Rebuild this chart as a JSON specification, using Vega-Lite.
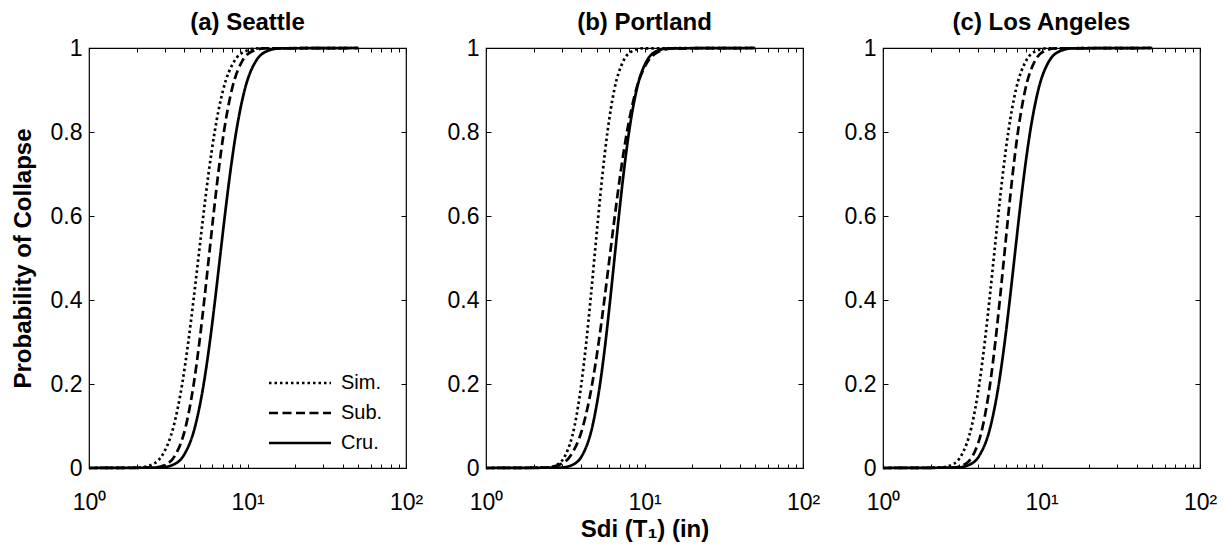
{
  "$schema": "https://vega.github.io/schema/vega-lite/v6.json",
  "padding": {"left": 10, "top": 10, "right": 5, "bottom": 2},
  "background": "white",
  "datasets": {
    "curves": [
      {"city":"Seattle","curve":"Sim.","sdi":1,"p":0},{"city":"Seattle","curve":"Sim.","sdi":2.063,"p":0.001},{"city":"Seattle","curve":"Sim.","sdi":2.554,"p":0.01},{"city":"Seattle","curve":"Sim.","sdi":2.894,"p":0.03},{"city":"Seattle","curve":"Sim.","sdi":3.422,"p":0.1},{"city":"Seattle","curve":"Sim.","sdi":3.871,"p":0.2},{"city":"Seattle","curve":"Sim.","sdi":4.231,"p":0.3},{"city":"Seattle","curve":"Sim.","sdi":4.565,"p":0.4},{"city":"Seattle","curve":"Sim.","sdi":4.9,"p":0.5},{"city":"Seattle","curve":"Sim.","sdi":5.26,"p":0.6},{"city":"Seattle","curve":"Sim.","sdi":5.674,"p":0.7},{"city":"Seattle","curve":"Sim.","sdi":6.203,"p":0.8},{"city":"Seattle","curve":"Sim.","sdi":7.016,"p":0.9},{"city":"Seattle","curve":"Sim.","sdi":8.297,"p":0.97},{"city":"Seattle","curve":"Sim.","sdi":9.399,"p":0.99},{"city":"Seattle","curve":"Sim.","sdi":11.64,"p":0.999},{"city":"Seattle","curve":"Sim.","sdi":50,"p":1},
      {"city":"Seattle","curve":"Sub.","sdi":1,"p":0},{"city":"Seattle","curve":"Sub.","sdi":2.552,"p":0.001},{"city":"Seattle","curve":"Sub.","sdi":3.113,"p":0.01},{"city":"Seattle","curve":"Sub.","sdi":3.495,"p":0.03},{"city":"Seattle","curve":"Sub.","sdi":4.084,"p":0.1},{"city":"Seattle","curve":"Sub.","sdi":4.579,"p":0.2},{"city":"Seattle","curve":"Sub.","sdi":4.974,"p":0.3},{"city":"Seattle","curve":"Sub.","sdi":5.337,"p":0.4},{"city":"Seattle","curve":"Sub.","sdi":5.7,"p":0.5},{"city":"Seattle","curve":"Sub.","sdi":6.088,"p":0.6},{"city":"Seattle","curve":"Sub.","sdi":6.532,"p":0.7},{"city":"Seattle","curve":"Sub.","sdi":7.095,"p":0.8},{"city":"Seattle","curve":"Sub.","sdi":7.955,"p":0.9},{"city":"Seattle","curve":"Sub.","sdi":9.296,"p":0.97},{"city":"Seattle","curve":"Sub.","sdi":10.436,"p":0.99},{"city":"Seattle","curve":"Sub.","sdi":12.729,"p":0.999},{"city":"Seattle","curve":"Sub.","sdi":50,"p":1},
      {"city":"Seattle","curve":"Cru.","sdi":1,"p":0},{"city":"Seattle","curve":"Cru.","sdi":2.821,"p":0.001},{"city":"Seattle","curve":"Cru.","sdi":3.493,"p":0.01},{"city":"Seattle","curve":"Cru.","sdi":3.957,"p":0.03},{"city":"Seattle","curve":"Cru.","sdi":4.679,"p":0.1},{"city":"Seattle","curve":"Cru.","sdi":5.292,"p":0.2},{"city":"Seattle","curve":"Cru.","sdi":5.786,"p":0.3},{"city":"Seattle","curve":"Cru.","sdi":6.242,"p":0.4},{"city":"Seattle","curve":"Cru.","sdi":6.7,"p":0.5},{"city":"Seattle","curve":"Cru.","sdi":7.192,"p":0.6},{"city":"Seattle","curve":"Cru.","sdi":7.759,"p":0.7},{"city":"Seattle","curve":"Cru.","sdi":8.482,"p":0.8},{"city":"Seattle","curve":"Cru.","sdi":9.593,"p":0.9},{"city":"Seattle","curve":"Cru.","sdi":11.345,"p":0.97},{"city":"Seattle","curve":"Cru.","sdi":12.852,"p":0.99},{"city":"Seattle","curve":"Cru.","sdi":15.916,"p":0.999},{"city":"Seattle","curve":"Cru.","sdi":50,"p":1},
      {"city":"Portland","curve":"Sim.","sdi":1,"p":0},{"city":"Portland","curve":"Sim.","sdi":2.41,"p":0.001},{"city":"Portland","curve":"Sim.","sdi":2.862,"p":0.01},{"city":"Portland","curve":"Sim.","sdi":3.164,"p":0.03},{"city":"Portland","curve":"Sim.","sdi":3.62,"p":0.1},{"city":"Portland","curve":"Sim.","sdi":3.996,"p":0.2},{"city":"Portland","curve":"Sim.","sdi":4.293,"p":0.3},{"city":"Portland","curve":"Sim.","sdi":4.563,"p":0.4},{"city":"Portland","curve":"Sim.","sdi":4.83,"p":0.5},{"city":"Portland","curve":"Sim.","sdi":5.113,"p":0.6},{"city":"Portland","curve":"Sim.","sdi":5.434,"p":0.7},{"city":"Portland","curve":"Sim.","sdi":5.838,"p":0.8},{"city":"Portland","curve":"Sim.","sdi":6.445,"p":0.9},{"city":"Portland","curve":"Sim.","sdi":7.374,"p":0.97},{"city":"Portland","curve":"Sim.","sdi":8.152,"p":0.99},{"city":"Portland","curve":"Sim.","sdi":9.681,"p":0.999},{"city":"Portland","curve":"Sim.","sdi":50,"p":1},
      {"city":"Portland","curve":"Sub.","sdi":1,"p":0},{"city":"Portland","curve":"Sub.","sdi":2.382,"p":0.001},{"city":"Portland","curve":"Sub.","sdi":2.996,"p":0.01},{"city":"Portland","curve":"Sub.","sdi":3.424,"p":0.03},{"city":"Portland","curve":"Sub.","sdi":4.098,"p":0.1},{"city":"Portland","curve":"Sub.","sdi":4.676,"p":0.2},{"city":"Portland","curve":"Sub.","sdi":5.144,"p":0.3},{"city":"Portland","curve":"Sub.","sdi":5.58,"p":0.4},{"city":"Portland","curve":"Sub.","sdi":6.02,"p":0.5},{"city":"Portland","curve":"Sub.","sdi":6.495,"p":0.6},{"city":"Portland","curve":"Sub.","sdi":7.045,"p":0.7},{"city":"Portland","curve":"Sub.","sdi":7.75,"p":0.8},{"city":"Portland","curve":"Sub.","sdi":8.843,"p":0.9},{"city":"Portland","curve":"Sub.","sdi":10.584,"p":0.97},{"city":"Portland","curve":"Sub.","sdi":12.097,"p":0.99},{"city":"Portland","curve":"Sub.","sdi":15.211,"p":0.999},{"city":"Portland","curve":"Sub.","sdi":50,"p":1},
      {"city":"Portland","curve":"Cru.","sdi":1,"p":0},{"city":"Portland","curve":"Cru.","sdi":2.989,"p":0.001},{"city":"Portland","curve":"Cru.","sdi":3.617,"p":0.01},{"city":"Portland","curve":"Cru.","sdi":4.043,"p":0.03},{"city":"Portland","curve":"Cru.","sdi":4.696,"p":0.1},{"city":"Portland","curve":"Cru.","sdi":5.242,"p":0.2},{"city":"Portland","curve":"Cru.","sdi":5.676,"p":0.3},{"city":"Portland","curve":"Cru.","sdi":6.073,"p":0.4},{"city":"Portland","curve":"Cru.","sdi":6.47,"p":0.5},{"city":"Portland","curve":"Cru.","sdi":6.893,"p":0.6},{"city":"Portland","curve":"Cru.","sdi":7.376,"p":0.7},{"city":"Portland","curve":"Cru.","sdi":7.986,"p":0.8},{"city":"Portland","curve":"Cru.","sdi":8.914,"p":0.9},{"city":"Portland","curve":"Cru.","sdi":10.355,"p":0.97},{"city":"Portland","curve":"Cru.","sdi":11.572,"p":0.99},{"city":"Portland","curve":"Cru.","sdi":14.008,"p":0.999},{"city":"Portland","curve":"Cru.","sdi":50,"p":1},
      {"city":"Los Angeles","curve":"Sim.","sdi":1,"p":0},{"city":"Los Angeles","curve":"Sim.","sdi":2.31,"p":0.001},{"city":"Los Angeles","curve":"Sim.","sdi":2.796,"p":0.01},{"city":"Los Angeles","curve":"Sim.","sdi":3.124,"p":0.03},{"city":"Los Angeles","curve":"Sim.","sdi":3.629,"p":0.1},{"city":"Los Angeles","curve":"Sim.","sdi":4.051,"p":0.2},{"city":"Los Angeles","curve":"Sim.","sdi":4.386,"p":0.3},{"city":"Los Angeles","curve":"Sim.","sdi":4.694,"p":0.4},{"city":"Los Angeles","curve":"Sim.","sdi":5.0,"p":0.5},{"city":"Los Angeles","curve":"Sim.","sdi":5.327,"p":0.6},{"city":"Los Angeles","curve":"Sim.","sdi":5.7,"p":0.7},{"city":"Los Angeles","curve":"Sim.","sdi":6.172,"p":0.8},{"city":"Los Angeles","curve":"Sim.","sdi":6.889,"p":0.9},{"city":"Los Angeles","curve":"Sim.","sdi":8.003,"p":0.97},{"city":"Los Angeles","curve":"Sim.","sdi":8.943,"p":0.99},{"city":"Los Angeles","curve":"Sim.","sdi":10.825,"p":0.999},{"city":"Los Angeles","curve":"Sim.","sdi":50,"p":1},
      {"city":"Los Angeles","curve":"Sub.","sdi":1,"p":0},{"city":"Los Angeles","curve":"Sub.","sdi":2.763,"p":0.001},{"city":"Los Angeles","curve":"Sub.","sdi":3.319,"p":0.01},{"city":"Los Angeles","curve":"Sub.","sdi":3.693,"p":0.03},{"city":"Los Angeles","curve":"Sub.","sdi":4.264,"p":0.1},{"city":"Los Angeles","curve":"Sub.","sdi":4.739,"p":0.2},{"city":"Los Angeles","curve":"Sub.","sdi":5.114,"p":0.3},{"city":"Los Angeles","curve":"Sub.","sdi":5.458,"p":0.4},{"city":"Los Angeles","curve":"Sub.","sdi":5.8,"p":0.5},{"city":"Los Angeles","curve":"Sub.","sdi":6.163,"p":0.6},{"city":"Los Angeles","curve":"Sub.","sdi":6.578,"p":0.7},{"city":"Los Angeles","curve":"Sub.","sdi":7.099,"p":0.8},{"city":"Los Angeles","curve":"Sub.","sdi":7.89,"p":0.9},{"city":"Los Angeles","curve":"Sub.","sdi":9.109,"p":0.97},{"city":"Los Angeles","curve":"Sub.","sdi":10.136,"p":0.99},{"city":"Los Angeles","curve":"Sub.","sdi":12.176,"p":0.999},{"city":"Los Angeles","curve":"Sub.","sdi":50,"p":1},
      {"city":"Los Angeles","curve":"Cru.","sdi":1,"p":0},{"city":"Los Angeles","curve":"Cru.","sdi":2.931,"p":0.001},{"city":"Los Angeles","curve":"Cru.","sdi":3.603,"p":0.01},{"city":"Los Angeles","curve":"Cru.","sdi":4.062,"p":0.03},{"city":"Los Angeles","curve":"Cru.","sdi":4.775,"p":0.1},{"city":"Los Angeles","curve":"Cru.","sdi":5.378,"p":0.2},{"city":"Los Angeles","curve":"Cru.","sdi":5.86,"p":0.3},{"city":"Los Angeles","curve":"Cru.","sdi":6.305,"p":0.4},{"city":"Los Angeles","curve":"Cru.","sdi":6.75,"p":0.5},{"city":"Los Angeles","curve":"Cru.","sdi":7.227,"p":0.6},{"city":"Los Angeles","curve":"Cru.","sdi":7.776,"p":0.7},{"city":"Los Angeles","curve":"Cru.","sdi":8.473,"p":0.8},{"city":"Los Angeles","curve":"Cru.","sdi":9.542,"p":0.9},{"city":"Los Angeles","curve":"Cru.","sdi":11.217,"p":0.97},{"city":"Los Angeles","curve":"Cru.","sdi":12.649,"p":0.99},{"city":"Los Angeles","curve":"Cru.","sdi":15.547,"p":0.999},{"city":"Los Angeles","curve":"Cru.","sdi":50,"p":1}
    ]
  },
  "spacing": 80,
  "bounds": "flush",
  "resolve": {"legend": {"strokeDash": "independent"}},
  "hconcat": [
    {
      "title": {"text": "(a) Seattle"},
      "width": 317, "height": 420,
      "data": {"name": "curves"},
      "transform": [{"filter": "datum.city === 'Seattle'"}],
      "resolve": {"axis": {"x": "independent", "y": "independent"}},
      "layer": [
        {
          "mark": {"type": "line", "interpolate": "monotone", "color": "black", "strokeWidth": 2.7},
          "encoding": {
            "x": {"field": "sdi", "type": "quantitative", "scale": {"type": "log", "domain": [1, 100]},
                  "axis": {"orient": "bottom", "values": [1,2,3,4,5,6,7,8,9,10,20,30,40,50,60,70,80,90,100], "labelExpr": "datum.value==1?'10⁰':datum.value==10?'10¹':datum.value==100?'10²':''", "tickSize": -4, "labelPadding": 27, "labelFlush": false, "labelOverlap": false, "title": null}},
            "y": {"field": "p", "type": "quantitative", "scale": {"domain": [0, 1], "nice": false},
                  "axis": {"orient": "left", "values": [0,0.2,0.4,0.6,0.8,1], "format": "~g", "tickSize": -5, "labelPadding": 12, "title": "Probability of Collapse", "titlePadding": 15}},
            "strokeDash": {"field": "curve", "type": "nominal",
                  "scale": {"domain": ["Sim.", "Sub.", "Cru."], "range": [[2.5, 3], [9, 4.5], [1, 0]]},
                  "legend": {"orient": "none", "legendX": 201, "legendY": 325, "title": null, "symbolType": "M-6.2,0H6.2", "symbolSize": 100, "symbolStrokeWidth": 2.7, "symbolStrokeColor": "black", "labelOffset": 31, "rowPadding": 10, "labelFontSize": 20, "labelFont": "Liberation Sans", "labelColor": "black", "padding": 0}}
          }
        },
        {
          "mark": {"type": "line", "strokeOpacity": 0},
          "encoding": {
            "x": {"field": "sdi", "type": "quantitative", "axis": {"orient": "top", "values": [1,2,3,4,5,6,7,8,9,10,20,30,40,50,60,70,80,90,100], "labels": false, "tickSize": -4, "title": null}},
            "y": {"field": "p", "type": "quantitative", "axis": {"orient": "right", "values": [0,0.2,0.4,0.6,0.8,1], "labels": false, "tickSize": -5, "title": null}},
            "detail": {"field": "curve"}
          }
        }
      ]
    },
    {
      "title": {"text": "(b) Portland"},
      "width": 317, "height": 420,
      "data": {"name": "curves"},
      "transform": [{"filter": "datum.city === 'Portland'"}],
      "resolve": {"axis": {"x": "independent", "y": "independent"}},
      "layer": [
        {
          "mark": {"type": "line", "interpolate": "monotone", "color": "black", "strokeWidth": 2.7},
          "encoding": {
            "x": {"field": "sdi", "type": "quantitative", "scale": {"type": "log", "domain": [1, 100]},
                  "axis": {"orient": "bottom", "values": [1,2,3,4,5,6,7,8,9,10,20,30,40,50,60,70,80,90,100], "labelExpr": "datum.value==1?'10⁰':datum.value==10?'10¹':datum.value==100?'10²':''", "tickSize": -4, "labelPadding": 27, "labelFlush": false, "labelOverlap": false, "title": "Sdi (T₁) (in)", "titlePadding": 3}},
            "y": {"field": "p", "type": "quantitative", "scale": {"domain": [0, 1], "nice": false},
                  "axis": {"orient": "left", "values": [0,0.2,0.4,0.6,0.8,1], "format": "~g", "tickSize": -5, "labelPadding": 12, "title": null}},
            "strokeDash": {"field": "curve", "type": "nominal",
                  "scale": {"domain": ["Sim.", "Sub.", "Cru."], "range": [[2.5, 3], [9, 4.5], [1, 0]]},
                  "legend": null}
          }
        },
        {
          "mark": {"type": "line", "strokeOpacity": 0},
          "encoding": {
            "x": {"field": "sdi", "type": "quantitative", "axis": {"orient": "top", "values": [1,2,3,4,5,6,7,8,9,10,20,30,40,50,60,70,80,90,100], "labels": false, "tickSize": -4, "title": null}},
            "y": {"field": "p", "type": "quantitative", "axis": {"orient": "right", "values": [0,0.2,0.4,0.6,0.8,1], "labels": false, "tickSize": -5, "title": null}},
            "detail": {"field": "curve"}
          }
        }
      ]
    },
    {
      "title": {"text": "(c) Los Angeles"},
      "width": 317, "height": 420,
      "data": {"name": "curves"},
      "transform": [{"filter": "datum.city === 'Los Angeles'"}],
      "resolve": {"axis": {"x": "independent", "y": "independent"}},
      "layer": [
        {
          "mark": {"type": "line", "interpolate": "monotone", "color": "black", "strokeWidth": 2.7},
          "encoding": {
            "x": {"field": "sdi", "type": "quantitative", "scale": {"type": "log", "domain": [1, 100]},
                  "axis": {"orient": "bottom", "values": [1,2,3,4,5,6,7,8,9,10,20,30,40,50,60,70,80,90,100], "labelExpr": "datum.value==1?'10⁰':datum.value==10?'10¹':datum.value==100?'10²':''", "tickSize": -4, "labelPadding": 27, "labelFlush": false, "labelOverlap": false, "title": null}},
            "y": {"field": "p", "type": "quantitative", "scale": {"domain": [0, 1], "nice": false},
                  "axis": {"orient": "left", "values": [0,0.2,0.4,0.6,0.8,1], "format": "~g", "tickSize": -5, "labelPadding": 12, "title": null}},
            "strokeDash": {"field": "curve", "type": "nominal",
                  "scale": {"domain": ["Sim.", "Sub.", "Cru."], "range": [[2.5, 3], [9, 4.5], [1, 0]]},
                  "legend": null}
          }
        },
        {
          "mark": {"type": "line", "strokeOpacity": 0},
          "encoding": {
            "x": {"field": "sdi", "type": "quantitative", "axis": {"orient": "top", "values": [1,2,3,4,5,6,7,8,9,10,20,30,40,50,60,70,80,90,100], "labels": false, "tickSize": -4, "title": null}},
            "y": {"field": "p", "type": "quantitative", "axis": {"orient": "right", "values": [0,0.2,0.4,0.6,0.8,1], "labels": false, "tickSize": -5, "title": null}},
            "detail": {"field": "curve"}
          }
        }
      ]
    }
  ],
  "config": {
    "view": {"stroke": "black", "strokeWidth": 1.2},
    "axis": {"labelFont": "Liberation Sans", "titleFont": "Liberation Sans", "labelColor": "black", "titleColor": "black", "tickColor": "black", "labelFontSize": 23, "titleFontSize": 24, "titleFontWeight": "bold", "grid": false, "domain": false, "tickWidth": 1},
    "title": {"font": "Liberation Sans", "fontSize": 24, "fontWeight": "bold", "color": "black", "anchor": "middle", "offset": 2}
  }
}
